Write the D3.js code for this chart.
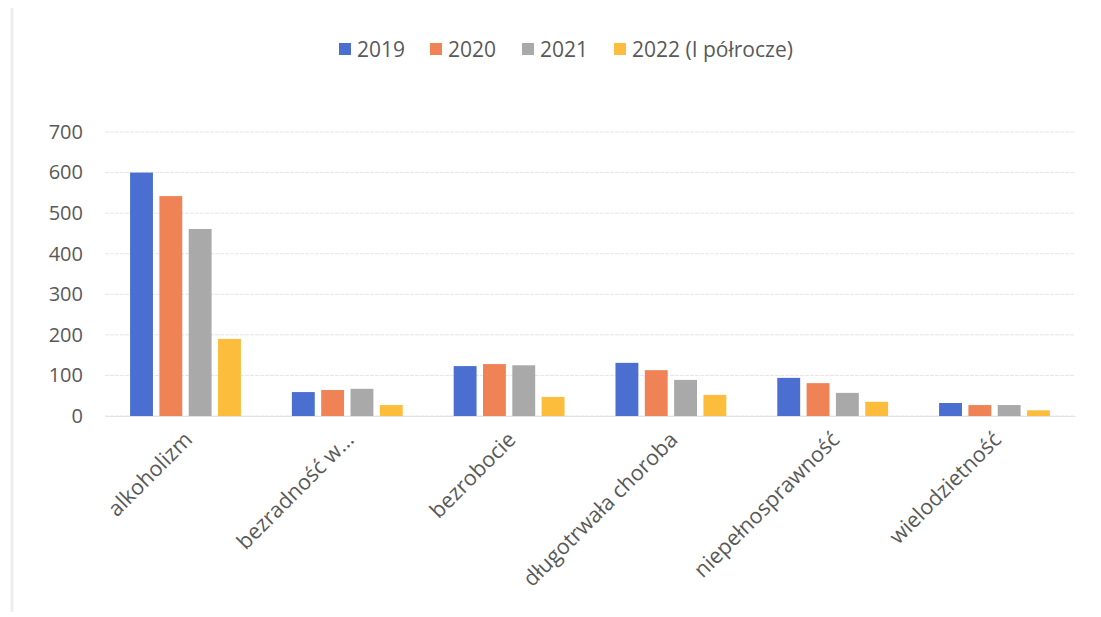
<!DOCTYPE html>
<html><head><meta charset="utf-8">
<script src="https://cdn.jsdelivr.net/npm/d3@7"></script>
<style>body{margin:0;background:#fff}svg{display:block}</style>
</head><body>
<svg id="c" width="1101" height="617"></svg>
<script>
const categories = ["alkoholizm","bezradność w...","bezrobocie","długotrwała choroba","niepełnosprawność","wielodzietność"];
const seriesNames = ["2019","2020","2021","2022 (I półrocze)"];
const v2019 = [600, 59, 123, 131, 94, 32];
const v2020 = [542, 64, 128, 113, 81, 27];
const v2021 = [461, 67, 125, 89, 57, 27];
const v2022 = [190, 27, 47, 52, 35, 14];
const yTicks = [0,100,200,300,400,500,600,700];
const colors = ["#4a6fd0","#ef8356","#a9a9a9","#fbbd3b"];
const series = [v2019, v2020, v2021, v2022];

const svg = d3.select("#c");
const font = "'Open Sans', sans-serif";
// faint frame line
svg.append("line").attr("x1",12).attr("x2",12).attr("y1",8).attr("y2",612).attr("stroke","#eeeeee").attr("stroke-width",3);

const x0 = d3.scaleBand().domain(categories).range([105,1075]).paddingInner(0.315).paddingOuter(0.155);
const x1 = d3.scaleBand().domain(seriesNames).range([0,x0.bandwidth()]).paddingInner(0.22);
const y = d3.scaleLinear().domain([0,700]).range([416,132]);

// gridlines
svg.append("g").selectAll("line").data(yTicks).join("line")
  .attr("x1",105).attr("x2",1075).attr("y1",d=>y(d)).attr("y2",d=>y(d))
  .attr("stroke","#e6e6e6").attr("stroke-width",1).attr("stroke-dasharray","4,1");

// y axis
const ya = svg.append("g").attr("transform","translate(83,0)")
  .call(d3.axisLeft(y).tickValues(yTicks).tickSize(0).tickPadding(0));
ya.select(".domain").remove();
ya.selectAll("text").attr("font-family",font).attr("font-size",20).attr("fill","#595959");

// bars
const g = svg.append("g");
series.forEach((vals,si)=>{
  g.append("g").selectAll("rect").data(vals).join("rect")
    .attr("x",(d,i)=>x0(categories[i])+x1(seriesNames[si]))
    .attr("width",x1.bandwidth())
    .attr("y",d=>y(d)).attr("height",d=>y(0)-y(d))
    .attr("fill",colors[si]);
});

// x axis labels
const xa = svg.append("g").attr("transform","translate(0,416)")
  .call(d3.axisBottom(x0).tickSize(0).tickPadding(0));
xa.select(".domain").attr("stroke","#e3e3e3");
xa.selectAll("text").attr("font-family",font).attr("font-size",21.5).attr("fill","#595959")
  .attr("text-anchor","end").attr("dy",0)
  .attr("transform","translate(8,25) rotate(-45)");

// legend
const legX = [339, 430, 522, 614];
const lg = svg.append("g");
seriesNames.forEach((s,i)=>{
  lg.append("rect").attr("x",legX[i]).attr("y",43).attr("width",12).attr("height",12).attr("fill",colors[i]);
  lg.append("text").attr("x",legX[i]+18).attr("y",57).text(s)
    .attr("font-family",font).attr("font-size",21).attr("fill","#595959");
});
</script>
</body></html>
